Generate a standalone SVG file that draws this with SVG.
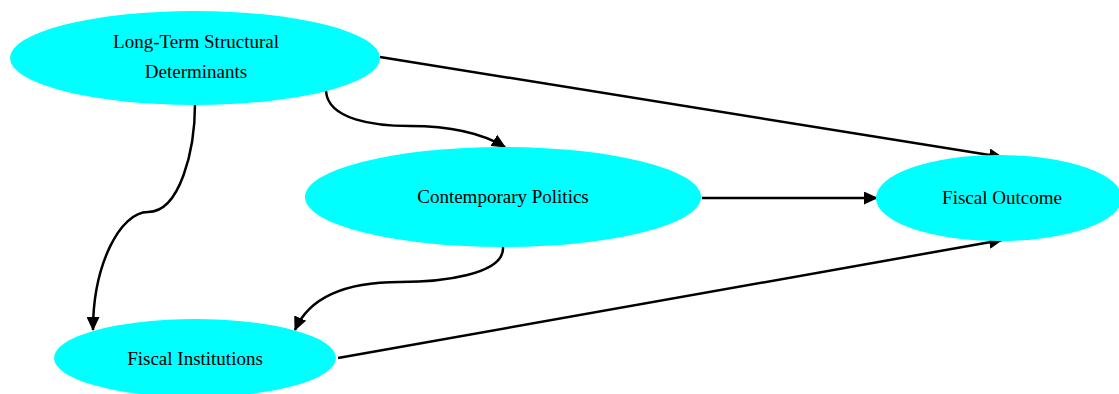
<svg xmlns="http://www.w3.org/2000/svg" width="1119" height="394" viewBox="0 0 1119 394">
<style>
.n{fill:#00ffff;stroke:none}
.t{font-family:"Liberation Serif","Times New Roman",serif;font-size:19px;fill:#000;text-anchor:middle}
.e{fill:none;stroke:#000;stroke-width:2.5}
</style>
<defs>
<marker id="ah" markerWidth="14" markerHeight="13" refX="13" refY="6.5" orient="auto" markerUnits="userSpaceOnUse">
<path d="M0,0 L14,6.5 L0,13 Z" fill="#000"/>
</marker>
</defs>
<rect width="1119" height="394" fill="#fff"/>
<g id="edges">
<path class="e" marker-end="url(#ah)" d="M380,57 L1002,157"/>
<path class="e" marker-end="url(#ah)" d="M326,91 C328,120 375,126 410,126 C450,126 480,132 505,147"/>
<path class="e" marker-end="url(#ah)" d="M195,104 C195,150 180,212 148,212 C120,212 93,265 93,330"/>
<path class="e" marker-end="url(#ah)" d="M702,198 L877,198"/>
<path class="e" marker-end="url(#ah)" d="M503,247 C505,275 440,282 400,282 C340,282 308,300 295,330"/>
<path class="e" marker-end="url(#ah)" d="M338,358 L1002,240"/>
</g>
<g id="ltsd">
<ellipse class="n" cx="195" cy="58" rx="185" ry="47"/>
<text class="t" x="196" y="48">Long-Term Structural</text>
<text class="t" x="196" y="78">Determinants</text>
</g>
<g id="cp">
<ellipse class="n" cx="503" cy="197" rx="198" ry="50"/>
<text class="t" x="503" y="203">Contemporary Politics</text>
</g>
<g id="fo">
<ellipse class="n" cx="999" cy="198" rx="123" ry="43"/>
<text class="t" x="1002" y="204">Fiscal Outcome</text>
</g>
<g id="fi">
<ellipse class="n" cx="195" cy="358" rx="141" ry="39"/>
<text class="t" x="195" y="365">Fiscal Institutions</text>
</g>
</svg>
